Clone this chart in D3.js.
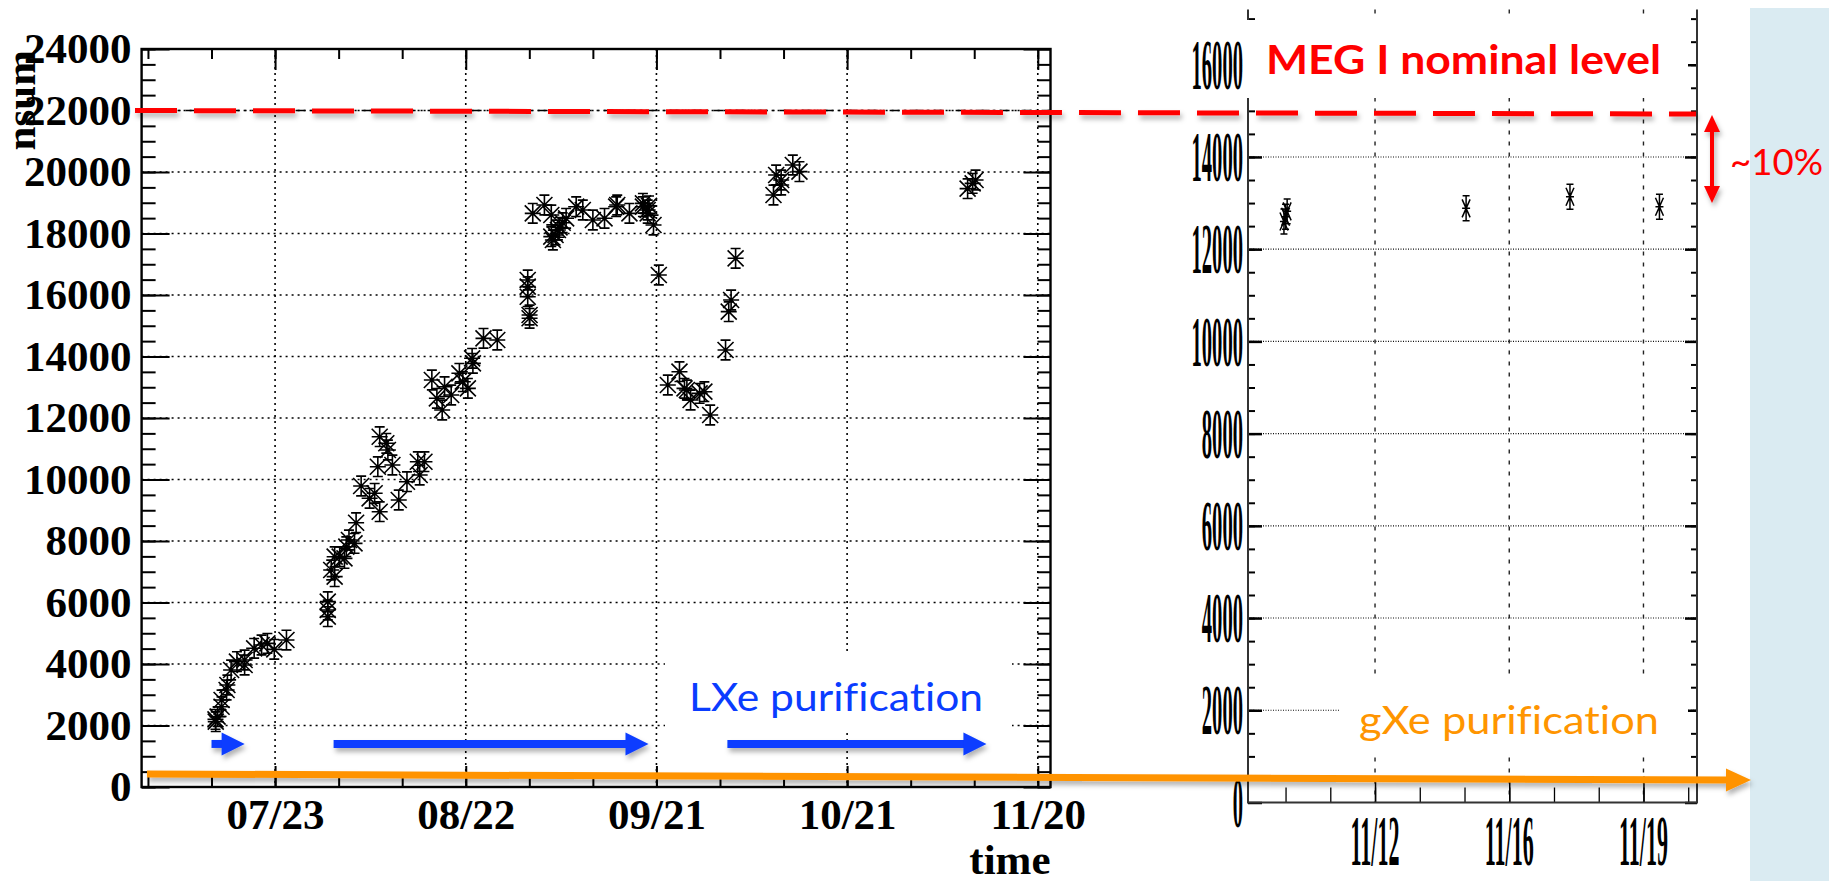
<!DOCTYPE html>
<html>
<head>
<meta charset="utf-8">
<script src="https://cdn.jsdelivr.net/npm/d3@7"></script>
<style>
  body { margin: 0; background: #fff; }
  svg { display: block; }
  text { font-variant-ligatures: none; }
</style>
</head>
<body>
<div id="chart"></div>
<script>
const W = 1829, H = 881;

// ---- left plot: LXe purification period (nsum vs time) ----
const lxeTime = [
  "2018-07-13T15","2018-07-13T16","2018-07-13T23","2018-07-14T14","2018-07-14T14",
  "2018-07-15T09","2018-07-15T12","2018-07-16T02","2018-07-17T00","2018-07-18T05",
  "2018-07-18T05","2018-07-19T17","2018-07-20T21","2018-07-21T19","2018-07-22T21",
  "2018-07-24T19",
  "2018-07-31T07","2018-07-31T07","2018-07-31T07","2018-07-31T20","2018-08-01T09",
  "2018-08-01T09","2018-08-02T04","2018-08-02T22","2018-08-03T05","2018-08-03T15",
  "2018-08-04T12","2018-08-04T18","2018-08-05T13","2018-08-06T21","2018-08-07T16",
  "2018-08-08T04","2018-08-08T11","2018-08-08T11","2018-08-09T12","2018-08-09T18",
  "2018-08-10T11","2018-08-11T11","2018-08-12T18","2018-08-14T11","2018-08-14T18",
  "2018-08-15T12","2018-08-16T16","2018-08-17T11","2018-08-18T07","2018-08-18T16",
  "2018-08-19T17","2018-08-21T00","2018-08-21T13","2018-08-22T08","2018-08-23T00",
  "2018-08-23T03","2018-08-24T19","2018-08-26T23",
  "2018-08-31T18","2018-08-31T18","2018-08-31T18","2018-09-01T01","2018-09-01T01",
  "2018-09-01T13","2018-09-03T09","2018-09-04T11","2018-09-04T11","2018-09-04T17",
  "2018-09-05T03","2018-09-05T12","2018-09-05T18","2018-09-06T06","2018-09-06T19",
  "2018-09-08T09","2018-09-09T10","2018-09-11T00","2018-09-12T20","2018-09-14T16",
  "2018-09-14T20","2018-09-16T18","2018-09-18T21","2018-09-18T21","2018-09-19T15",
  "2018-09-19T15","2018-09-19T20","2018-09-20T13","2018-09-21T09",
  "2018-09-22T19","2018-09-24T15","2018-09-25T10","2018-09-25T19","2018-09-26T09",
  "2018-09-27T19","2018-09-28T13","2018-09-29T11","2018-10-01T21","2018-10-02T09",
  "2018-10-02T18","2018-10-03T11",
  "2018-10-09T10","2018-10-09T20","2018-10-10T15","2018-10-10T15","2018-10-12T11",
  "2018-10-13T12",
  "2018-11-08T23","2018-11-09T18","2018-11-10T05"
];
const lxeNsum = [
  2200,2124,2287,2611,2829,
  3154,3317,3805,4076,4130,
  3967,4510,4618,4672,4477,
  4780,
  6027,5756,5540,7057,6840,
  7490,7490,7436,7815,8033,
  7924,8595,9789,9388,9551,
  10416,8953,11392,11177,10959,
  10472,9333,9928,10579,10146,
  10579,13236,12640,12260,13018,
  12748,13453,13181,12965,13941,
  13778,14591,14537,
  16488,16271,15945,15350,15242,
  18656,18927,18602,17897,17789,
  17950,18114,18200,18350,18494,
  18872,18764,18439,18494,18872,
  18927,18656,18981,18872,18764,
  18656,18900,18276,16650,
  13073,13506,12965,12911,12585,
  12802,12856,12098,14211,15458,
  15837,17193,
  19252,19902,19740,19577,20228,
  20011,
  19458,19631,19740
];
const lxeErr = 320;

// ---- right plot: gXe purification period ----
const gxeTime = ["2018-11-10T03","2018-11-10T04","2018-11-10T05","2018-11-14T21","2018-11-17T14","2018-11-19T22"];
const gxeNsum = [12600, 12704, 12820, 12886, 13138, 12921];
const gxeErr = 270;

// ---- axes definitions ----
const leftXLabels = ["2018-07-23T00","2018-08-22T00","2018-09-21T00","2018-10-21T00","2018-11-20T00"];
const leftYMajor = d3.range(0, 24001, 2000);
const leftYMinor = d3.range(0, 24001, 500);
const rightXLabels = ["2018-11-12T12","2018-11-16T00","2018-11-19T12"];
const rightYMajor = d3.range(0, 16001, 2000);
const rightYMinor = d3.range(0, 17001, 500);

// ---- annotation values ----
const megLevel = 22000;
const lxeArrowStart = ["2018-07-13T00","2018-08-01T05","2018-10-02T04"];
const lxeArrowTip   = ["2018-07-18T05","2018-09-19T18","2018-11-11T22"];
const lxeArrowLevel = 1400;

const parse = d3.utcParse("%Y-%m-%dT%H");
const fmt = d3.utcFormat("%m/%d");

const svg = d3.select("#chart").append("svg")
  .attr("width", W).attr("height", H)
  .attr("viewBox", [0, 0, W, H]);

const defs = svg.append("defs");
defs.append("filter").attr("id", "shadow")
  .attr("filterUnits", "userSpaceOnUse")
  .attr("x", 0).attr("y", 0).attr("width", W).attr("height", H)
  .append("feDropShadow")
  .attr("dx", 2).attr("dy", 4).attr("stdDeviation", 2.5)
  .attr("flood-color", "#000").attr("flood-opacity", 0.3);

// side panel of the slide
svg.append("rect").attr("x", 1750).attr("y", 8)
  .attr("width", W - 1750).attr("height", H - 8).attr("fill", "#daebf2");

const serif = "'Liberation Serif', 'Times New Roman', serif";
const sans = "Lato, 'Open Sans', sans-serif";

// ================= LEFT PLOT =================
const xL = d3.scaleUtc()
  .domain([parse("2018-07-02T00"), parse("2018-11-22T00")])
  .range([141.6, 1050.5]);
const yL = d3.scaleLinear().domain([0, 24000]).range([787, 49]);
const leftMajorDates = leftXLabels.map(parse);
const leftMinorDates = d3.range(0, 15).map(i => d3.utcDay.offset(parse("2018-07-03T00"), 10 * i));

const gL = svg.append("g");

// grid
gL.append("g").selectAll("line")
  .data(leftYMajor.filter(v => v > 0 && v < 24000)).join("line")
  .attr("x1", xL.range()[0]).attr("x2", xL.range()[1])
  .attr("y1", d => yL(d)).attr("y2", d => yL(d))
  .attr("stroke", "#000").attr("stroke-width", 1.6).attr("stroke-dasharray", "2,4");
gL.append("g").selectAll("line")
  .data(leftMajorDates).join("line")
  .attr("x1", d => xL(d)).attr("x2", d => xL(d))
  .attr("y1", yL.range()[1]).attr("y2", yL.range()[0])
  .attr("stroke", "#000").attr("stroke-width", 1.6).attr("stroke-dasharray", "2,4");

function styleAxis(g, w) {
  g.select(".domain").remove();
  g.selectAll(".tick line").attr("stroke", "#000").attr("stroke-width", w);
}

// ticks (inside the frame, ROOT style)
gL.append("g").attr("transform", `translate(0,${yL(0)})`)
  .call(d3.axisBottom(xL).tickValues(leftMinorDates).tickSize(-10).tickFormat(""))
  .call(styleAxis, 2);
gL.append("g").attr("transform", `translate(0,${yL(0)})`)
  .call(d3.axisBottom(xL).tickValues(leftMajorDates).tickSize(-21).tickPadding(11).tickFormat(fmt))
  .call(styleAxis, 2)
  .call(g => g.selectAll("text").attr("font-family", serif).attr("font-weight", "bold")
    .attr("font-size", 43).attr("fill", "#000"));
gL.append("g").attr("transform", `translate(0,${yL(24000)})`)
  .call(d3.axisTop(xL).tickValues(leftMinorDates).tickSize(-10).tickFormat(""))
  .call(styleAxis, 2);
gL.append("g").attr("transform", `translate(0,${yL(24000)})`)
  .call(d3.axisTop(xL).tickValues(leftMajorDates).tickSize(-21).tickFormat(""))
  .call(styleAxis, 2);

gL.append("g").attr("transform", `translate(${xL.range()[0]},0)`)
  .call(d3.axisLeft(yL).tickValues(leftYMinor).tickSize(-14).tickFormat(""))
  .call(styleAxis, 2);
gL.append("g").attr("transform", `translate(${xL.range()[0]},0)`)
  .call(d3.axisLeft(yL).tickValues(leftYMajor).tickSize(-28).tickPadding(10).tickFormat(d3.format("d")))
  .call(styleAxis, 2)
  .call(g => g.selectAll("text").attr("font-family", serif).attr("font-weight", "bold")
    .attr("font-size", 43).attr("fill", "#000"));
gL.append("g").attr("transform", `translate(${xL.range()[1]},0)`)
  .call(d3.axisRight(yL).tickValues(leftYMinor).tickSize(-13).tickFormat(""))
  .call(styleAxis, 2);
gL.append("g").attr("transform", `translate(${xL.range()[1]},0)`)
  .call(d3.axisRight(yL).tickValues(leftYMajor).tickSize(-27).tickFormat(""))
  .call(styleAxis, 2);

gL.append("rect")
  .attr("x", xL.range()[0]).attr("y", yL(24000))
  .attr("width", xL.range()[1] - xL.range()[0]).attr("height", yL(0) - yL(24000))
  .attr("fill", "none").attr("stroke", "#000").attr("stroke-width", 2.4);

// axis titles
gL.append("text")
  .attr("transform", `translate(35,${yL(24000) + 1}) rotate(-90)`)
  .attr("text-anchor", "end")
  .attr("font-family", serif).attr("font-weight", "bold").attr("font-size", 43)
  .text("nsum");
gL.append("text")
  .attr("x", xL.range()[1]).attr("y", 874)
  .attr("text-anchor", "end")
  .attr("font-family", serif).attr("font-weight", "bold").attr("font-size", 43)
  .text("time");

// ROOT dash-dot reference line at the MEG I level
gL.append("line")
  .attr("x1", xL.range()[0]).attr("x2", xL.range()[1])
  .attr("y1", yL(megLevel)).attr("y2", yL(megLevel))
  .attr("stroke", "#000").attr("stroke-width", 1.5).attr("stroke-dasharray", "10,5,2,5");

// data points: asterisk marker + vertical error bar
const lxeData = lxeTime.map((t, i) => ({ t: parse(t), v: lxeNsum[i] }));
const s = 8, cap = 5;
gL.append("g").selectAll("path")
  .data(lxeData).join("path")
  .attr("transform", d => `translate(${xL(d.t)},${yL(d.v)})`)
  .attr("d", d => {
    const up = yL(d.v + lxeErr) - yL(d.v), dn = yL(d.v - lxeErr) - yL(d.v);
    return `M${-s},0H${s}M${-s},${-s}L${s},${s}M${-s},${s}L${s},${-s}` +
      `M0,${up}V${dn}M${-cap},${up}H${cap}M${-cap},${dn}H${cap}`;
  })
  .attr("fill", "none").attr("stroke", "#000").attr("stroke-width", 1.6);

// ================= RIGHT PLOT =================
const xR = d3.scaleUtc()
  .domain([new Date(Date.UTC(2018, 10, 9, 4, 30)), new Date(Date.UTC(2018, 10, 20, 21, 30))])
  .range([1248, 1697]);
const yR = d3.scaleLinear().domain([0, 17200]).range([802.5, 9.4]);
const rightMajorDates = rightXLabels.map(parse);
const rightMinorDates = d3.range(-2, 8).map(i => d3.utcHour.offset(parse("2018-11-12T12"), 28 * i))
  .filter(d => d >= xR.domain()[0] && d <= xR.domain()[1]);

const gR = svg.append("g");
gR.append("g").selectAll("line")
  .data(rightYMajor.filter(v => v > 0)).join("line")
  .attr("x1", xR.range()[0]).attr("x2", xR.range()[1])
  .attr("y1", d => yR(d)).attr("y2", d => yR(d))
  .attr("stroke", "#111").attr("stroke-width", 1.1).attr("stroke-dasharray", "1,1.5");
gR.append("g").selectAll("line")
  .data(rightMajorDates).join("line")
  .attr("x1", d => xR(d)).attr("x2", d => xR(d))
  .attr("y1", yR.range()[1]).attr("y2", yR.range()[0])
  .attr("stroke", "#222").attr("stroke-width", 1.4).attr("stroke-dasharray", "4,7");

gR.append("g").attr("transform", `translate(0,${yR(0)})`)
  .call(d3.axisBottom(xR).tickValues(rightMinorDates).tickSize(-15).tickFormat(""))
  .call(styleAxis, 1.3);
gR.append("g").attr("transform", `translate(0,${yR(0)})`)
  .call(d3.axisBottom(xR).tickValues(rightMajorDates).tickSize(-26).tickFormat(""))
  .call(styleAxis, 1.5);
gR.append("g").attr("transform", `translate(${xR.range()[0]},0)`)
  .call(d3.axisLeft(yR).tickValues(rightYMinor).tickSize(-7).tickFormat(""))
  .call(styleAxis, 2);
gR.append("g").attr("transform", `translate(${xR.range()[0]},0)`)
  .call(d3.axisLeft(yR).tickValues(rightYMajor).tickSize(-14).tickFormat(""))
  .call(styleAxis, 2.5);
gR.append("g").attr("transform", `translate(${xR.range()[1]},0)`)
  .call(d3.axisRight(yR).tickValues(rightYMinor).tickSize(-6).tickFormat(""))
  .call(styleAxis, 2);
gR.append("g").attr("transform", `translate(${xR.range()[1]},0)`)
  .call(d3.axisRight(yR).tickValues(rightYMajor).tickSize(-12).tickFormat(""))
  .call(styleAxis, 2.5);
// frame: left, bottom and right edges (top is cut off in the slide)
const [rx0, rx1] = xR.range(), [ry0, ry1] = yR.range();
gR.append("path")
  .attr("d", `M${rx0},${ry1}V${ry0}H${rx1}V${ry1}`)
  .attr("fill", "none").attr("stroke", "#333").attr("stroke-width", 2);

// condensed labels (the pasted plot was squeezed sideways)
gR.append("g").selectAll("text")
  .data(rightYMajor).join("text")
  .attr("transform", d => `translate(${rx0 - 5},${yR(d)}) scale(0.29,1)`)
  .attr("dy", "0.34em").attr("text-anchor", "end")
  .attr("font-family", serif).attr("font-weight", "bold").attr("font-size", 71)
  .text(d => d);
gR.append("g").selectAll("text")
  .data(rightMajorDates).join("text")
  .attr("transform", d => `translate(${xR(d)},865) scale(0.31,1)`)
  .attr("text-anchor", "middle")
  .attr("font-family", serif).attr("font-weight", "bold").attr("font-size", 71)
  .text(d => fmt(d));

const gxeData = gxeTime.map((t, i) => ({ t: parse(t), v: gxeNsum[i] }));
const sx = 4, sy = 9, capR = 3.5;
gR.append("g").selectAll("path")
  .data(gxeData).join("path")
  .attr("transform", d => `translate(${xR(d.t)},${yR(d.v)})`)
  .attr("d", d => {
    const up = yR(d.v + gxeErr) - yR(d.v), dn = yR(d.v - gxeErr) - yR(d.v);
    return `M${-sx},0H${sx}M${-sx},${-sy}L${sx},${sy}M${-sx},${sy}L${sx},${-sy}` +
      `M0,${up}V${dn}M${-capR},${up}H${capR}M${-capR},${dn}H${capR}`;
  })
  .attr("fill", "none").attr("stroke", "#000").attr("stroke-width", 1.5);

// ================= SLIDE ANNOTATIONS =================
const ann = svg.append("g");

// white text boxes pasted over the plots
ann.append("rect").attr("x", 665).attr("y", 652).attr("width", 347).attr("height", 81).attr("fill", "#fff");
ann.append("rect").attr("x", 1340).attr("y", 675).attr("width", 348).attr("height", 82).attr("fill", "#fff");
ann.append("rect").attr("x", 1245).attr("y", 20).attr("width", 443).attr("height", 78).attr("fill", "#fff");

ann.append("text").attr("x", 689).attr("y", 711)
  .attr("font-family", sans).attr("font-size", 39).attr("fill", "#0a3cff")
  .attr("textLength", 294).attr("lengthAdjust", "spacingAndGlyphs")
  .text("LXe purification");
ann.append("text").attr("x", 1359).attr("y", 734)
  .attr("font-family", sans).attr("font-size", 39).attr("fill", "#ff9500")
  .attr("textLength", 300).attr("lengthAdjust", "spacingAndGlyphs")
  .text("gXe purification");
ann.append("text").attr("x", 1266).attr("y", 74)
  .attr("font-family", sans).attr("font-weight", "bold").attr("font-size", 40).attr("fill", "#ff0000")
  .attr("textLength", 395).attr("lengthAdjust", "spacingAndGlyphs")
  .text("MEG I nominal level");
ann.append("text").attr("x", 1730).attr("y", 175)
  .attr("font-family", sans).attr("font-size", 36).attr("fill", "#ff0000")
  .attr("textLength", 93).attr("lengthAdjust", "spacingAndGlyphs")
  .text("~10%");

// MEG I nominal level dashed line
ann.append("line")
  .attr("x1", 135).attr("x2", 1696)
  .attr("y1", yL(megLevel)).attr("y2", yL(megLevel) + 3.5)
  .attr("stroke", "#ff0000").attr("stroke-width", 5).attr("stroke-dasharray", "42,17")
  .attr("filter", "url(#shadow)");

// blue LXe arrows
const blue = "#0a3cff";
const headL = 23, headH = 11.5;
lxeArrowStart.forEach((st, i) => {
  const x0 = xL(parse(st)), x1 = xL(parse(lxeArrowTip[i])), y = yL(lxeArrowLevel);
  const g = ann.append("g").attr("filter", "url(#shadow)");
  g.append("line").attr("x1", x0).attr("x2", x1 - headL + 1).attr("y1", y).attr("y2", y)
    .attr("stroke", blue).attr("stroke-width", 8);
  g.append("path").attr("d", `M${x1 - headL},${y - headH}L${x1},${y}L${x1 - headL},${y + headH}Z`)
    .attr("fill", blue);
});

// orange gXe arrow along the bottom
const orange = "#ff9300";
const og = ann.append("g").attr("filter", "url(#shadow)");
og.append("line").attr("x1", 147).attr("y1", 774).attr("x2", 1727).attr("y2", 780)
  .attr("stroke", orange).attr("stroke-width", 7);
og.append("path").attr("d", "M1726,768.5L1751,780L1726,791.5Z").attr("fill", orange);

// red ~10% double arrow
const rg = ann.append("g").attr("filter", "url(#shadow)");
rg.append("line").attr("x1", 1712).attr("x2", 1712).attr("y1", 128).attr("y2", 190)
  .attr("stroke", "#ff0000").attr("stroke-width", 4);
rg.append("path").attr("d", "M1704,132L1712,115L1720,132Z").attr("fill", "#ff0000");
rg.append("path").attr("d", "M1704,186L1712,203L1720,186Z").attr("fill", "#ff0000");
</script>
</body>
</html>
